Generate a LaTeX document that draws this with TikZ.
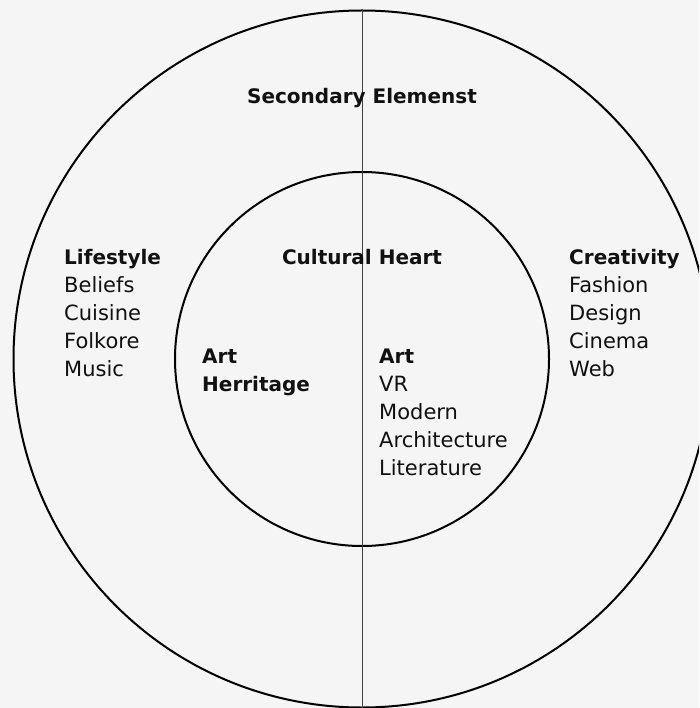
\documentclass[tikz,border=0pt]{standalone}
\usepackage{fontspec}
\setmainfont{DejaVu Sans}
\definecolor{bg}{HTML}{F5F5F5}
\definecolor{ink}{HTML}{111111}
\tikzset{
  x=1pt, y=-1pt,
  ring/.style={draw=black, line width=2pt},
  divider/.style={draw=black!75, line width=0.9pt},
  lbl/.style={anchor=base west, inner sep=0pt, text=ink, font=\fontsize{21}{25}\selectfont},
  head/.style={lbl, font=\fontsize{20}{25}\selectfont\bfseries},
  ctitle/.style={anchor=base, inner sep=0pt, text=ink, font=\fontsize{20}{25}\selectfont\bfseries}
}
\begin{document}
\begin{tikzpicture}
\fill[bg] (0,0) rectangle (699,708);
\useasboundingbox (0,0) rectangle (699,708);
\begin{scope}
\clip (0,0) rectangle (699,708);
\coordinate (c) at (362,359);
\draw[ring] (c) circle[radius=348.5];
\draw[ring] (c) circle[radius=187];
\coordinate (top) at (362,10);
\coordinate (bot) at (362,708);
\draw[divider] (top) -- (bot);
\end{scope}
\node[ctitle] (sec) at (362,104) {Secondary Elemenst};
\node[ctitle] (heart) at (362,264) {Cultural Heart};
% Lifestyle
\node[head] (life) at (64,264) {Lifestyle};
\node[lbl] (l1) at (64,292) {Beliefs};
\node[lbl] (l2) at (64,320) {Cuisine};
\node[lbl] (l3) at (64,348) {Folkore};
\node[lbl] (l4) at (64,376) {Music};
% Art heritage
\node[head] (ah1) at (202,363.5) {Art};
\node[head] (ah2) at (202,391.5) {Herritage};
% Art
\node[head] (art) at (379,363.5) {Art};
\node[lbl] (a1) at (379,391) {VR};
\node[lbl] (a2) at (379,419) {Modern};
\node[lbl] (a3) at (379,447) {Architecture};
\node[lbl] (a4) at (379,475) {Literature};
% Creativity
\node[head] (cre) at (569,264) {Creativity};
\node[lbl] (c1) at (569,292) {Fashion};
\node[lbl] (c2) at (569,320) {Design};
\node[lbl] (c3) at (569,348) {Cinema};
\node[lbl] (c4) at (569,376) {Web};
\end{tikzpicture}
\end{document}
